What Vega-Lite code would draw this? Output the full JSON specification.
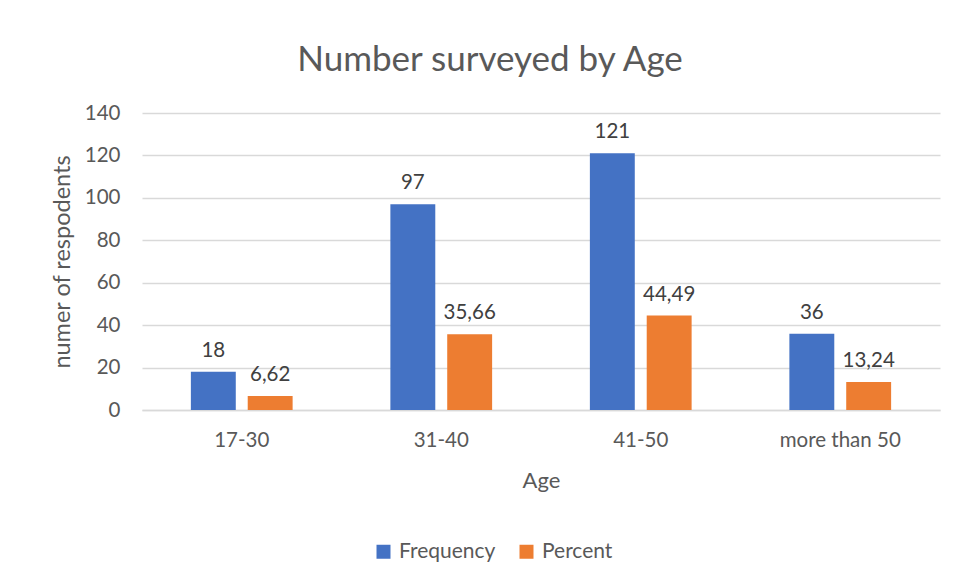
{
  "$schema": "https://vega.github.io/schema/vega-lite/v6.json",
  "autosize": {"type": "none"},
  "width": 798,
  "height": 297,
  "padding": {"left": 142, "top": 113, "right": 17, "bottom": 173},
  "background": "white",
  "title": {
    "text": "Number surveyed by Age",
    "font": "Lato",
    "fontSize": 35,
    "fontWeight": "normal",
    "color": "#595959",
    "anchor": "middle",
    "dx": -51,
    "offset": 25
  },
  "data": {
    "values": [
      {"age": "17-30", "series": "Frequency", "value": 18, "label": "18"},
      {"age": "17-30", "series": "Percent", "value": 6.62, "label": "6,62"},
      {"age": "31-40", "series": "Frequency", "value": 97, "label": "97"},
      {"age": "31-40", "series": "Percent", "value": 35.66, "label": "35,66"},
      {"age": "41-50", "series": "Frequency", "value": 121, "label": "121"},
      {"age": "41-50", "series": "Percent", "value": 44.49, "label": "44,49"},
      {"age": "more than 50", "series": "Frequency", "value": 36, "label": "36"},
      {"age": "more than 50", "series": "Percent", "value": 13.24, "label": "13,24"}
    ]
  },
  "encoding": {
    "x": {
      "field": "age",
      "type": "nominal",
      "sort": null,
      "scale": {"paddingInner": 0.49, "paddingOuter": 0.245},
      "axis": {
        "title": "Age",
        "labelAngle": 0,
        "labelFont": "Lato",
        "labelFontSize": 20.5,
        "labelColor": "#595959",
        "labelPadding": 20,
        "titleFont": "Lato",
        "titleFontSize": 22,
        "titleFontWeight": "normal",
        "titleColor": "#595959",
        "titlePadding": 20,
        "ticks": false,
        "domainColor": "#d9d9d9",
        "domainWidth": 1.5
      }
    },
    "xOffset": {
      "field": "series",
      "type": "nominal",
      "scale": {"paddingInner": 0.21, "paddingOuter": 0}
    },
    "y": {
      "field": "value",
      "type": "quantitative",
      "scale": {"domain": [0, 140]},
      "axis": {
        "title": "numer of respodents",
        "values": [0, 20, 40, 60, 80, 100, 120, 140],
        "labelFont": "Lato",
        "labelFontSize": 20.5,
        "labelColor": "#595959",
        "labelPadding": 22,
        "titleFont": "Lato",
        "titleFontSize": 23.5,
        "titleFontWeight": "normal",
        "titleColor": "#595959",
        "titlePadding": 10,
        "ticks": false,
        "domain": false,
        "gridColor": "#d9d9d9",
        "gridWidth": 1.5
      }
    },
    "color": {
      "field": "series",
      "type": "nominal",
      "scale": {"domain": ["Frequency", "Percent"], "range": ["#4472C4", "#ED7D31"]},
      "legend": {
        "title": null,
        "orient": "none",
        "direction": "horizontal",
        "legendX": 231,
        "legendY": 428,
        "symbolType": "square",
        "symbolSize": 196,
        "symbolStrokeWidth": 0,
        "labelFont": "Lato",
        "labelFontSize": 21,
        "labelColor": "#595959",
        "labelOffset": 5,
        "columnPadding": 20
      }
    }
  },
  "layer": [
    {"mark": {"type": "bar"}},
    {
      "mark": {"type": "text", "baseline": "bottom", "dy": -11, "font": "Lato", "fontSize": 20.5, "color": "#404040"},
      "encoding": {"text": {"field": "label"}, "color": {"value": "#404040"}}
    }
  ],
  "config": {
    "view": {"stroke": null}
  }
}
